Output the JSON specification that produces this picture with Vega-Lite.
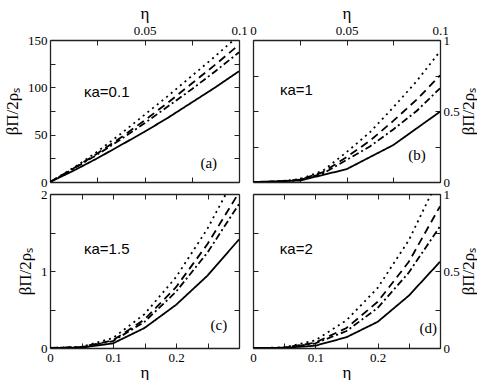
{
  "$schema": "https://vega.github.io/schema/vega-lite/v6.json",
  "padding": {"left": 3, "top": 4, "right": 0, "bottom": 0},
  "autosize": {"type": "pad"},
  "background": "white",
  "columns": 2,
  "bounds": "flush",
  "align": "each",
  "spacing": {"row": 12, "column": 14},
  "config": {
    "font": "Liberation Serif",
    "view": {"stroke": null},
    "axis": {
      "grid": false, "domain": true, "domainColor": "#222", "domainWidth": 1.3,
      "ticks": true, "tickColor": "#222", "tickSize": -5, "tickWidth": 1,
      "labelFont": "Liberation Serif", "labelFontSize": 13, "labelColor": "black",
      "labelPadding": 8, "labelOverlap": false, "labelFlush": false, "labelBound": false,
      "titleFont": "Liberation Serif", "titleFontSize": 17, "titleFontWeight": "normal", "titleColor": "black",
      "format": "~r"
    }
  },
  "datasets": {
    "a": [
      {"eta": 0, "v": 0, "s": "solid"}, {"eta": 0.0125, "v": 12, "s": "solid"}, {"eta": 0.025, "v": 25, "s": "solid"}, {"eta": 0.0375, "v": 39, "s": "solid"}, {"eta": 0.05, "v": 53, "s": "solid"}, {"eta": 0.0625, "v": 68, "s": "solid"}, {"eta": 0.075, "v": 84, "s": "solid"}, {"eta": 0.0875, "v": 100, "s": "solid"}, {"eta": 0.1, "v": 117, "s": "solid"},
      {"eta": 0, "v": 0, "s": "dashdot"}, {"eta": 0.0125, "v": 14, "s": "dashdot"}, {"eta": 0.025, "v": 29, "s": "dashdot"}, {"eta": 0.0375, "v": 45, "s": "dashdot"}, {"eta": 0.05, "v": 62, "s": "dashdot"}, {"eta": 0.0625, "v": 80, "s": "dashdot"}, {"eta": 0.075, "v": 98, "s": "dashdot"}, {"eta": 0.0875, "v": 117, "s": "dashdot"}, {"eta": 0.1, "v": 137, "s": "dashdot"},
      {"eta": 0, "v": 0, "s": "dashed"}, {"eta": 0.0125, "v": 14.5, "s": "dashed"}, {"eta": 0.025, "v": 30, "s": "dashed"}, {"eta": 0.0375, "v": 47, "s": "dashed"}, {"eta": 0.05, "v": 65, "s": "dashed"}, {"eta": 0.0625, "v": 84, "s": "dashed"}, {"eta": 0.075, "v": 104, "s": "dashed"}, {"eta": 0.0875, "v": 124, "s": "dashed"}, {"eta": 0.1, "v": 145, "s": "dashed"},
      {"eta": 0, "v": 0, "s": "dotted"}, {"eta": 0.0125, "v": 15, "s": "dotted"}, {"eta": 0.025, "v": 32, "s": "dotted"}, {"eta": 0.0375, "v": 51, "s": "dotted"}, {"eta": 0.05, "v": 71, "s": "dotted"}, {"eta": 0.0625, "v": 91, "s": "dotted"}, {"eta": 0.075, "v": 112, "s": "dotted"}, {"eta": 0.0875, "v": 133, "s": "dotted"}, {"eta": 0.1, "v": 155, "s": "dotted"}
    ],
    "b": [
      {"eta": 0, "v": 0, "s": "solid"}, {"eta": 0.025, "v": 0.01, "s": "solid"}, {"eta": 0.05, "v": 0.09, "s": "solid"}, {"eta": 0.075, "v": 0.26, "s": "solid"}, {"eta": 0.1, "v": 0.495, "s": "solid"},
      {"eta": 0, "v": 0, "s": "dashdot"}, {"eta": 0.0125, "v": 0.002, "s": "dashdot"}, {"eta": 0.025, "v": 0.015, "s": "dashdot"}, {"eta": 0.0375, "v": 0.06, "s": "dashdot"}, {"eta": 0.05, "v": 0.155, "s": "dashdot"}, {"eta": 0.0625, "v": 0.25, "s": "dashdot"}, {"eta": 0.075, "v": 0.37, "s": "dashdot"}, {"eta": 0.0875, "v": 0.5, "s": "dashdot"}, {"eta": 0.1, "v": 0.66, "s": "dashdot"},
      {"eta": 0, "v": 0, "s": "dashed"}, {"eta": 0.0125, "v": 0.002, "s": "dashed"}, {"eta": 0.025, "v": 0.017, "s": "dashed"}, {"eta": 0.0375, "v": 0.07, "s": "dashed"}, {"eta": 0.05, "v": 0.175, "s": "dashed"}, {"eta": 0.0625, "v": 0.29, "s": "dashed"}, {"eta": 0.075, "v": 0.43, "s": "dashed"}, {"eta": 0.0875, "v": 0.58, "s": "dashed"}, {"eta": 0.1, "v": 0.75, "s": "dashed"},
      {"eta": 0, "v": 0, "s": "dotted"}, {"eta": 0.0125, "v": 0.003, "s": "dotted"}, {"eta": 0.025, "v": 0.02, "s": "dotted"}, {"eta": 0.0375, "v": 0.08, "s": "dotted"}, {"eta": 0.05, "v": 0.21, "s": "dotted"}, {"eta": 0.0625, "v": 0.35, "s": "dotted"}, {"eta": 0.075, "v": 0.525, "s": "dotted"}, {"eta": 0.0875, "v": 0.71, "s": "dotted"}, {"eta": 0.1, "v": 0.92, "s": "dotted"}
    ],
    "c": [
      {"eta": 0, "v": 0, "s": "solid"}, {"eta": 0.05, "v": 0.005, "s": "solid"}, {"eta": 0.1, "v": 0.06, "s": "solid"}, {"eta": 0.15, "v": 0.26, "s": "solid"}, {"eta": 0.2, "v": 0.56, "s": "solid"}, {"eta": 0.25, "v": 0.94, "s": "solid"}, {"eta": 0.3, "v": 1.41, "s": "solid"},
      {"eta": 0, "v": 0, "s": "dashdot"}, {"eta": 0.05, "v": 0.01, "s": "dashdot"}, {"eta": 0.1, "v": 0.09, "s": "dashdot"}, {"eta": 0.15, "v": 0.34, "s": "dashdot"}, {"eta": 0.2, "v": 0.73, "s": "dashdot"}, {"eta": 0.25, "v": 1.24, "s": "dashdot"}, {"eta": 0.3, "v": 1.87, "s": "dashdot"},
      {"eta": 0, "v": 0, "s": "dashed"}, {"eta": 0.05, "v": 0.012, "s": "dashed"}, {"eta": 0.1, "v": 0.1, "s": "dashed"}, {"eta": 0.15, "v": 0.37, "s": "dashed"}, {"eta": 0.2, "v": 0.79, "s": "dashed"}, {"eta": 0.25, "v": 1.35, "s": "dashed"}, {"eta": 0.3, "v": 2.02, "s": "dashed"},
      {"eta": 0, "v": 0, "s": "dotted"}, {"eta": 0.05, "v": 0.015, "s": "dotted"}, {"eta": 0.1, "v": 0.13, "s": "dotted"}, {"eta": 0.15, "v": 0.44, "s": "dotted"}, {"eta": 0.2, "v": 0.92, "s": "dotted"}, {"eta": 0.25, "v": 1.55, "s": "dotted"}, {"eta": 0.3, "v": 2.32, "s": "dotted"}
    ],
    "d": [
      {"eta": 0, "v": 0, "s": "solid"}, {"eta": 0.05, "v": 0.001, "s": "solid"}, {"eta": 0.1, "v": 0.015, "s": "solid"}, {"eta": 0.15, "v": 0.07, "s": "solid"}, {"eta": 0.2, "v": 0.17, "s": "solid"}, {"eta": 0.25, "v": 0.34, "s": "solid"}, {"eta": 0.3, "v": 0.56, "s": "solid"},
      {"eta": 0, "v": 0, "s": "dashdot"}, {"eta": 0.05, "v": 0.002, "s": "dashdot"}, {"eta": 0.1, "v": 0.03, "s": "dashdot"}, {"eta": 0.15, "v": 0.11, "s": "dashdot"}, {"eta": 0.2, "v": 0.26, "s": "dashdot"}, {"eta": 0.25, "v": 0.49, "s": "dashdot"}, {"eta": 0.3, "v": 0.79, "s": "dashdot"},
      {"eta": 0, "v": 0, "s": "dashed"}, {"eta": 0.05, "v": 0.002, "s": "dashed"}, {"eta": 0.1, "v": 0.035, "s": "dashed"}, {"eta": 0.15, "v": 0.13, "s": "dashed"}, {"eta": 0.2, "v": 0.3, "s": "dashed"}, {"eta": 0.25, "v": 0.56, "s": "dashed"}, {"eta": 0.3, "v": 0.92, "s": "dashed"},
      {"eta": 0, "v": 0, "s": "dotted"}, {"eta": 0.05, "v": 0.003, "s": "dotted"}, {"eta": 0.1, "v": 0.05, "s": "dotted"}, {"eta": 0.15, "v": 0.18, "s": "dotted"}, {"eta": 0.2, "v": 0.39, "s": "dotted"}, {"eta": 0.25, "v": 0.7, "s": "dotted"}, {"eta": 0.3, "v": 1.12, "s": "dotted"}
    ]
  },
  "concat": [
    {
      "width": 189, "height": 142,
      "data": {"name": "a"},
      "layer": [
        {
          "mark": {"type": "line", "color": "black", "strokeWidth": 1.8, "clip": true},
          "encoding": {
            "x": {"field": "eta", "type": "quantitative", "scale": {"domain": [0, 0.1], "nice": false, "zero": false},
                  "axis": {"orient": "bottom", "values": [0, 0.025, 0.05, 0.075, 0.1], "labels": false, "title": null}},
            "y": {"field": "v", "type": "quantitative", "scale": {"domain": [0, 150], "nice": false},
                  "axis": {"orient": "left", "values": [0, 25, 50, 75, 100, 125, 150], "labelFont": "Liberation Serif", "labelExpr": "indexof([0,50,100,150], datum.value) >= 0 ? datum.label : ''", "title": "βΠ/2ρₛ", "titlePadding": 6}},
            "strokeDash": {"field": "s", "type": "nominal", "scale": {"domain": ["solid", "dashed", "dashdot", "dotted"], "range": [[1, 0], [8, 5], [7, 3, 2, 3], [2, 4]]}, "legend": null}
          }
        },
        {
          "mark": {"type": "line", "opacity": 0},
          "encoding": {
            "x": {"field": "eta", "type": "quantitative", "axis": {"orient": "top", "values": [0, 0.025, 0.05, 0.075, 0.1], "labelFont": "Liberation Serif", "labelExpr": "indexof([0.05,0.1], datum.value) >= 0 ? datum.label : ''", "title": "η", "titlePadding": 2}},
            "y": {"field": "v", "type": "quantitative", "axis": {"orient": "right", "values": [0, 25, 50, 75, 100, 125, 150], "labels": false, "title": null}},
            "detail": {"field": "s"}
          }
        },
        {
          "data": {"values": [{"t": "κa=0.1"}]},
          "mark": {"type": "text", "font": "Liberation Sans", "fontSize": 15, "align": "left", "baseline": "middle"},
          "encoding": {"x": {"datum": 0.018, "type": "quantitative", "axis": null}, "y": {"datum": 95, "type": "quantitative", "axis": null}, "text": {"field": "t"}}
        },
        {
          "data": {"values": [{"t": "(a)"}]},
          "mark": {"type": "text", "font": "Liberation Serif", "fontSize": 15, "align": "center", "baseline": "middle"},
          "encoding": {"x": {"datum": 0.084, "type": "quantitative", "axis": null}, "y": {"datum": 20, "type": "quantitative", "axis": null}, "text": {"field": "t"}}
        }
      ],
      "resolve": {"axis": {"x": "independent", "y": "independent"}}
    },
    {
      "width": 187, "height": 142,
      "data": {"name": "b"},
      "layer": [
        {
          "mark": {"type": "line", "color": "black", "strokeWidth": 1.8, "clip": true},
          "encoding": {
            "x": {"field": "eta", "type": "quantitative", "scale": {"domain": [0, 0.1], "nice": false, "zero": false},
                  "axis": {"orient": "bottom", "values": [0, 0.025, 0.05, 0.075, 0.1], "labels": false, "title": null}},
            "y": {"field": "v", "type": "quantitative", "scale": {"domain": [0, 1], "nice": false},
                  "axis": {"orient": "left", "values": [0, 0.25, 0.5, 0.75, 1], "labels": false, "title": null}},
            "strokeDash": {"field": "s", "type": "nominal", "scale": {"domain": ["solid", "dashed", "dashdot", "dotted"], "range": [[1, 0], [8, 5], [7, 3, 2, 3], [2, 4]]}, "legend": null}
          }
        },
        {
          "mark": {"type": "line", "opacity": 0},
          "encoding": {
            "x": {"field": "eta", "type": "quantitative", "axis": {"orient": "top", "values": [0, 0.025, 0.05, 0.075, 0.1], "labelFont": "Liberation Serif", "labelExpr": "indexof([0,0.05,0.1], datum.value) >= 0 ? datum.label : ''", "title": "η", "titlePadding": 2}},
            "y": {"field": "v", "type": "quantitative", "axis": {"orient": "right", "values": [0, 0.25, 0.5, 0.75, 1], "labelFont": "Liberation Serif", "labelExpr": "indexof([0,0.5,1], datum.value) >= 0 ? datum.label : ''", "title": "βΠ/2ρₛ", "titleAngle": 270, "titleBaseline": "top", "titlePadding": 1}},
            "detail": {"field": "s"}
          }
        },
        {
          "data": {"values": [{"t": "κa=1"}]},
          "mark": {"type": "text", "font": "Liberation Sans", "fontSize": 15, "align": "left", "baseline": "middle"},
          "encoding": {"x": {"datum": 0.0144, "type": "quantitative", "axis": null}, "y": {"datum": 0.65, "type": "quantitative", "axis": null}, "text": {"field": "t"}}
        },
        {
          "data": {"values": [{"t": "(b)"}]},
          "mark": {"type": "text", "font": "Liberation Serif", "fontSize": 15, "align": "center", "baseline": "middle"},
          "encoding": {"x": {"datum": 0.0877, "type": "quantitative", "axis": null}, "y": {"datum": 0.19, "type": "quantitative", "axis": null}, "text": {"field": "t"}}
        }
      ],
      "resolve": {"axis": {"x": "independent", "y": "independent"}}
    },
    {
      "width": 189, "height": 154,
      "data": {"name": "c"},
      "layer": [
        {
          "mark": {"type": "line", "color": "black", "strokeWidth": 1.8, "clip": true},
          "encoding": {
            "x": {"field": "eta", "type": "quantitative", "scale": {"domain": [0, 0.3], "nice": false, "zero": false},
                  "axis": {"orient": "bottom", "values": [0, 0.05, 0.1, 0.15, 0.2, 0.25, 0.3], "labelFont": "Liberation Serif", "labelExpr": "indexof([0,0.1,0.2], datum.value) >= 0 ? datum.label : ''", "title": "η", "titlePadding": 0}},
            "y": {"field": "v", "type": "quantitative", "scale": {"domain": [0, 2], "nice": false},
                  "axis": {"orient": "left", "values": [0, 0.5, 1, 1.5, 2], "labelFont": "Liberation Serif", "labelExpr": "indexof([0,1,2], datum.value) >= 0 ? datum.label : ''", "title": "βΠ/2ρₛ", "titlePadding": 6}},
            "strokeDash": {"field": "s", "type": "nominal", "scale": {"domain": ["solid", "dashed", "dashdot", "dotted"], "range": [[1, 0], [8, 5], [7, 3, 2, 3], [2, 4]]}, "legend": null}
          }
        },
        {
          "mark": {"type": "line", "opacity": 0},
          "encoding": {
            "x": {"field": "eta", "type": "quantitative", "axis": {"orient": "top", "values": [0, 0.05, 0.1, 0.15, 0.2, 0.25, 0.3], "labels": false, "title": null}},
            "y": {"field": "v", "type": "quantitative", "axis": {"orient": "right", "values": [0, 0.5, 1, 1.5, 2], "labels": false, "title": null}},
            "detail": {"field": "s"}
          }
        },
        {
          "data": {"values": [{"t": "κa=1.5"}]},
          "mark": {"type": "text", "font": "Liberation Sans", "fontSize": 15, "align": "left", "baseline": "middle"},
          "encoding": {"x": {"datum": 0.054, "type": "quantitative", "axis": null}, "y": {"datum": 1.29, "type": "quantitative", "axis": null}, "text": {"field": "t"}}
        },
        {
          "data": {"values": [{"t": "(c)"}]},
          "mark": {"type": "text", "font": "Liberation Serif", "fontSize": 15, "align": "center", "baseline": "middle"},
          "encoding": {"x": {"datum": 0.268, "type": "quantitative", "axis": null}, "y": {"datum": 0.3, "type": "quantitative", "axis": null}, "text": {"field": "t"}}
        }
      ],
      "resolve": {"axis": {"x": "independent", "y": "independent"}}
    },
    {
      "width": 187, "height": 154,
      "data": {"name": "d"},
      "layer": [
        {
          "mark": {"type": "line", "color": "black", "strokeWidth": 1.8, "clip": true},
          "encoding": {
            "x": {"field": "eta", "type": "quantitative", "scale": {"domain": [0, 0.3], "nice": false, "zero": false},
                  "axis": {"orient": "bottom", "values": [0, 0.05, 0.1, 0.15, 0.2, 0.25, 0.3], "labelFont": "Liberation Serif", "labelExpr": "indexof([0,0.1,0.2], datum.value) >= 0 ? datum.label : ''", "title": "η", "titlePadding": 0}},
            "y": {"field": "v", "type": "quantitative", "scale": {"domain": [0, 1], "nice": false},
                  "axis": {"orient": "left", "values": [0, 0.25, 0.5, 0.75, 1], "labels": false, "title": null}},
            "strokeDash": {"field": "s", "type": "nominal", "scale": {"domain": ["solid", "dashed", "dashdot", "dotted"], "range": [[1, 0], [8, 5], [7, 3, 2, 3], [2, 4]]}, "legend": null}
          }
        },
        {
          "mark": {"type": "line", "opacity": 0},
          "encoding": {
            "x": {"field": "eta", "type": "quantitative", "axis": {"orient": "top", "values": [0, 0.05, 0.1, 0.15, 0.2, 0.25, 0.3], "labels": false, "title": null}},
            "y": {"field": "v", "type": "quantitative", "axis": {"orient": "right", "values": [0, 0.25, 0.5, 0.75, 1], "labelFont": "Liberation Serif", "labelExpr": "indexof([0,0.5,1], datum.value) >= 0 ? datum.label : ''", "title": "βΠ/2ρₛ", "titleAngle": 270, "titleBaseline": "top", "titlePadding": 1}},
            "detail": {"field": "s"}
          }
        },
        {
          "data": {"values": [{"t": "κa=2"}]},
          "mark": {"type": "text", "font": "Liberation Sans", "fontSize": 15, "align": "left", "baseline": "middle"},
          "encoding": {"x": {"datum": 0.043, "type": "quantitative", "axis": null}, "y": {"datum": 0.64, "type": "quantitative", "axis": null}, "text": {"field": "t"}}
        },
        {
          "data": {"values": [{"t": "(d)"}]},
          "mark": {"type": "text", "font": "Liberation Serif", "fontSize": 15, "align": "center", "baseline": "middle"},
          "encoding": {"x": {"datum": 0.281, "type": "quantitative", "axis": null}, "y": {"datum": 0.13, "type": "quantitative", "axis": null}, "text": {"field": "t"}}
        }
      ],
      "resolve": {"axis": {"x": "independent", "y": "independent"}}
    }
  ]
}
